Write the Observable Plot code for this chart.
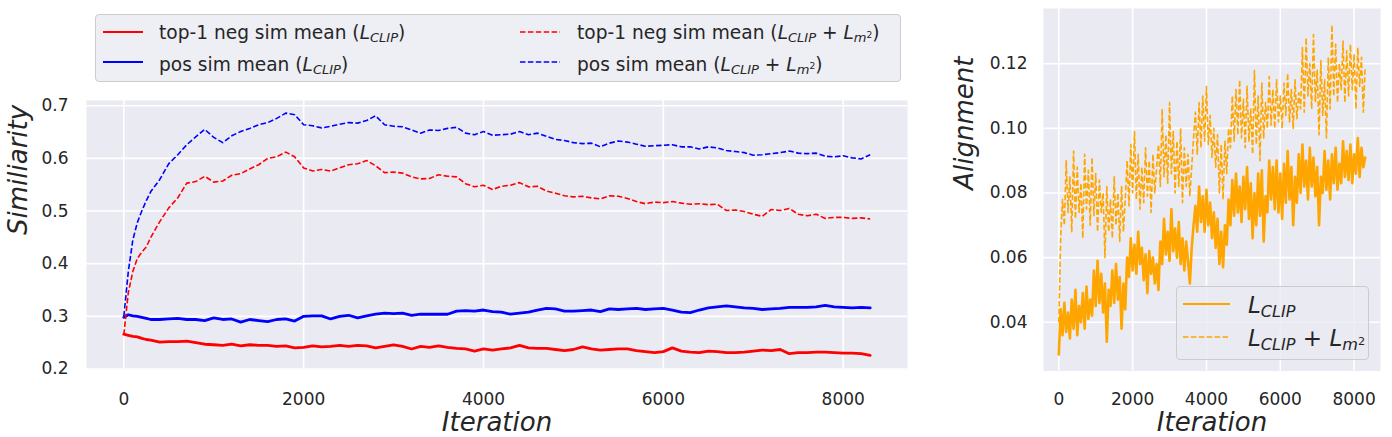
<!DOCTYPE html>
<html>
<head>
<meta charset="utf-8">
<script src="https://cdn.jsdelivr.net/npm/d3@7"></script>
<script src="https://cdn.jsdelivr.net/npm/@observablehq/plot@0.6"></script>
<style>
  html, body { margin: 0; padding: 0; background: #ffffff; }
  #wrap { position: relative; width: 1392px; height: 437px; overflow: hidden; background: #fff;
          font-family: "DejaVu Sans", sans-serif; color: #262626; }
  .abs { position: absolute; }
  .lg-box { position: absolute; box-sizing: border-box; border: 1px solid #cccccc; border-radius: 4px; }
  .lg-text { position: absolute; white-space: nowrap; line-height: 1; color: #262626; }
  .mi { font-style: italic; }
  .sb { font-size: 70%; position: relative; top: 0.25em; font-style: italic; }
  .sp { font-size: 70%; position: relative; top: -0.5em; font-style: normal; }
</style>
</head>
<body>
<div id="wrap">
  <div id="left" class="abs" style="left:0;top:0;"></div>
  <div id="right" class="abs" style="left:930px;top:0;"></div>
  <div id="legends"></div>
</div>
<script>
// ---------------- Left panel data (Similarity) ----------------
const iterLeft = [
  0, 50, 100, 150, 200, 250, 300,
  400, 500, 600, 700, 800, 900, 1000, 1100, 1200, 1300,
  1400, 1500, 1600, 1700, 1800, 1900, 2000, 2100, 2200, 2300,
  2400, 2500, 2600, 2700, 2800, 2900, 3000, 3100, 3200, 3300,
  3400, 3500, 3600, 3700, 3800, 3900, 4000, 4100, 4200, 4300,
  4400, 4500, 4600, 4700, 4800, 4900, 5000, 5100, 5200, 5300,
  5400, 5500, 5600, 5700, 5800, 5900, 6000, 6100, 6200, 6300,
  6400, 6500, 6600, 6700, 6800, 6900, 7000, 7100, 7200, 7300,
  7400, 7500, 7600, 7700, 7800, 7900, 8000, 8100, 8200, 8300
];
// top-1 neg sim mean (L_CLIP)
const negClip = [
  0.266, 0.264, 0.262, 0.261, 0.258, 0.256, 0.255,
  0.251, 0.252, 0.252, 0.253, 0.250, 0.247, 0.246, 0.245, 0.247, 0.244,
  0.246, 0.245, 0.245, 0.243, 0.244, 0.240, 0.241, 0.244, 0.242, 0.243,
  0.245, 0.243, 0.245, 0.244, 0.240, 0.243, 0.246, 0.243, 0.238, 0.243,
  0.241, 0.244, 0.241, 0.239, 0.238, 0.234, 0.238, 0.236, 0.238, 0.240,
  0.245, 0.240, 0.239, 0.239, 0.237, 0.235, 0.237, 0.242, 0.238, 0.236,
  0.237, 0.238, 0.238, 0.235, 0.233, 0.231, 0.233, 0.240, 0.234, 0.232,
  0.231, 0.234, 0.233, 0.231, 0.231, 0.232, 0.234, 0.236, 0.235, 0.237,
  0.229, 0.231, 0.231, 0.232, 0.232, 0.231, 0.230, 0.230, 0.229, 0.226
];
// pos sim mean (L_CLIP)
const posClip = [
  0.298, 0.303, 0.301, 0.300, 0.298, 0.296, 0.294,
  0.294, 0.295, 0.296, 0.294, 0.294, 0.292, 0.297, 0.294, 0.295, 0.289,
  0.294, 0.292, 0.290, 0.294, 0.295, 0.291, 0.300, 0.301, 0.301, 0.295,
  0.300, 0.302, 0.297, 0.301, 0.304, 0.306, 0.305, 0.306, 0.302, 0.304,
  0.304, 0.304, 0.304, 0.310, 0.311, 0.310, 0.312, 0.309, 0.308, 0.304,
  0.306, 0.308, 0.312, 0.315, 0.314, 0.310, 0.310, 0.311, 0.312, 0.309,
  0.314, 0.313, 0.314, 0.315, 0.313, 0.314, 0.315, 0.312, 0.308, 0.307,
  0.312, 0.316, 0.318, 0.320, 0.318, 0.316, 0.315, 0.313, 0.314, 0.315,
  0.317, 0.317, 0.317, 0.318, 0.321, 0.318, 0.317, 0.316, 0.317, 0.316
];
// top-1 neg sim mean (L_CLIP + L_m2)
const negM2 = [
  0.265, 0.345, 0.385, 0.410, 0.422, 0.432, 0.450,
  0.480, 0.506, 0.525, 0.553, 0.556, 0.566, 0.555, 0.557, 0.568, 0.571,
  0.580, 0.588, 0.600, 0.603, 0.612, 0.603, 0.582, 0.576, 0.579, 0.576,
  0.582, 0.588, 0.590, 0.596, 0.586, 0.573, 0.574, 0.572, 0.565, 0.561,
  0.562, 0.569, 0.566, 0.565, 0.552, 0.546, 0.549, 0.541, 0.547, 0.549,
  0.554, 0.546, 0.547, 0.538, 0.534, 0.529, 0.527, 0.528, 0.525, 0.523,
  0.529, 0.528, 0.524, 0.518, 0.514, 0.517, 0.516, 0.518, 0.515, 0.513,
  0.514, 0.512, 0.513, 0.501, 0.502, 0.499, 0.494, 0.490, 0.503, 0.501,
  0.505, 0.494, 0.491, 0.494, 0.486, 0.488, 0.488, 0.486, 0.487, 0.485
];
// pos sim mean (L_CLIP + L_m2)
const posM2 = [
  0.300, 0.385, 0.445, 0.478, 0.500, 0.520, 0.537,
  0.560, 0.590, 0.607, 0.626, 0.641, 0.655, 0.640, 0.630, 0.643, 0.651,
  0.657, 0.664, 0.668, 0.676, 0.686, 0.683, 0.664, 0.662, 0.658, 0.661,
  0.665, 0.668, 0.667, 0.672, 0.681, 0.664, 0.661, 0.660, 0.654, 0.648,
  0.654, 0.653, 0.657, 0.659, 0.648, 0.645, 0.651, 0.644, 0.645, 0.646,
  0.651, 0.645, 0.648, 0.642, 0.636, 0.634, 0.630, 0.628, 0.629, 0.622,
  0.629, 0.633, 0.631, 0.627, 0.623, 0.624, 0.625, 0.626, 0.622, 0.622,
  0.618, 0.622, 0.620, 0.615, 0.613, 0.611, 0.606, 0.607, 0.609, 0.611,
  0.614, 0.610, 0.609, 0.610, 0.604, 0.603, 0.605, 0.601, 0.599, 0.607
];

// ---------------- Right panel data (Alignment), one value every 50 iterations ----------------
const alignStep = 50;
const alignClip = [
  0.030, 0.044, 0.036, 0.046, 0.037, 0.043, 0.035, 0.047, 0.038, 0.050,
  0.036, 0.045, 0.040, 0.049, 0.038, 0.051, 0.041, 0.047, 0.042, 0.056,
  0.045, 0.059, 0.046, 0.055, 0.043, 0.052, 0.034, 0.050, 0.045, 0.056,
  0.046, 0.058, 0.047, 0.054, 0.038, 0.052, 0.044, 0.060, 0.054, 0.066,
  0.056, 0.064, 0.055, 0.068, 0.058, 0.063, 0.053, 0.061, 0.049, 0.062,
  0.055, 0.060, 0.052, 0.058, 0.050, 0.065, 0.058, 0.072, 0.061, 0.068,
  0.059, 0.075, 0.062, 0.069, 0.060, 0.071, 0.058, 0.066, 0.056, 0.065,
  0.059, 0.052, 0.063, 0.070, 0.076, 0.068, 0.082, 0.071, 0.079, 0.068,
  0.081, 0.070, 0.077, 0.066, 0.074, 0.063, 0.072, 0.058, 0.068, 0.057,
  0.070, 0.064, 0.078, 0.070, 0.084, 0.073, 0.086, 0.074, 0.082, 0.071,
  0.085, 0.075, 0.088, 0.072, 0.083, 0.066, 0.080, 0.070, 0.086, 0.073,
  0.087, 0.065, 0.079, 0.074, 0.090, 0.078, 0.088, 0.075, 0.090, 0.074,
  0.086, 0.072, 0.089, 0.077, 0.093, 0.078, 0.088, 0.070, 0.085, 0.077,
  0.092, 0.080, 0.095, 0.082, 0.090, 0.078, 0.094, 0.082, 0.091, 0.079,
  0.088, 0.070, 0.085, 0.080, 0.093, 0.081, 0.090, 0.078, 0.092, 0.083,
  0.094, 0.081, 0.089, 0.083, 0.096, 0.085, 0.093, 0.084, 0.095, 0.083,
  0.092, 0.086, 0.097, 0.085, 0.094, 0.088, 0.091
];
const alignM2 = [
  0.040, 0.066, 0.078, 0.070, 0.090, 0.074, 0.085, 0.068, 0.093, 0.072,
  0.088, 0.074, 0.083, 0.066, 0.092, 0.075, 0.087, 0.070, 0.091, 0.073,
  0.086, 0.068, 0.084, 0.074, 0.080, 0.060, 0.082, 0.068, 0.078, 0.066,
  0.085, 0.070, 0.080, 0.065, 0.082, 0.068, 0.078, 0.090, 0.076, 0.095,
  0.080, 0.099, 0.078, 0.092, 0.075, 0.088, 0.077, 0.094, 0.079, 0.090,
  0.074, 0.092, 0.080, 0.088, 0.095, 0.082, 0.106, 0.085, 0.098, 0.083,
  0.108, 0.086, 0.099, 0.080, 0.096, 0.082, 0.100, 0.077, 0.094, 0.082,
  0.092, 0.079, 0.088, 0.097, 0.105, 0.092, 0.108, 0.094, 0.110, 0.096,
  0.113, 0.095, 0.104, 0.091, 0.100, 0.088, 0.098, 0.080, 0.095, 0.078,
  0.096, 0.086, 0.100, 0.094, 0.110, 0.096, 0.112, 0.098, 0.115, 0.097,
  0.109, 0.094, 0.113, 0.096, 0.106, 0.092, 0.118, 0.095, 0.110, 0.090,
  0.114, 0.097, 0.108, 0.100, 0.116, 0.101, 0.112, 0.100, 0.115, 0.102,
  0.110, 0.100, 0.114, 0.104, 0.117, 0.102, 0.112, 0.100, 0.115, 0.103,
  0.111, 0.106, 0.125, 0.105, 0.128, 0.110, 0.120, 0.106, 0.129, 0.108,
  0.118, 0.098, 0.121, 0.104, 0.115, 0.097, 0.122, 0.106, 0.132, 0.110,
  0.126, 0.108, 0.120, 0.112, 0.127, 0.108, 0.124, 0.110, 0.126, 0.112,
  0.123, 0.106, 0.125, 0.113, 0.122, 0.105, 0.119
];

// ---------------- Ticks ----------------
const xTicks = [0, 2000, 4000, 6000, 8000];
const yTicksLeft = [0.2, 0.3, 0.4, 0.5, 0.6, 0.7];
const yTicksRight = [0.04, 0.06, 0.08, 0.10, 0.12];

const RED = "#ff0000", BLUE = "#0000ff", ORANGE = "#ffa500";
const BG = "#eaeaf2", INK = "#262626";
const DASH = "5.5,2.4";

const leftRows = vals => iterLeft.map((it, i) => ({iter: it, v: vals[i]}));
const rightRows = vals => vals.map((v, i) => ({iter: i * alignStep, v}));

const baseStyle = {fontFamily: "DejaVu Sans", color: INK, background: "transparent", overflow: "visible"};

const left = Plot.plot({
  width: 920, height: 437,
  marginLeft: 86, marginRight: 13, marginTop: 100, marginBottom: 68,
  style: baseStyle,
  x: {domain: [-415, 8715]},
  y: {domain: [0.199, 0.71]},
  marks: [
    Plot.frame({fill: BG, stroke: "none"}),
    Plot.gridX(xTicks, {stroke: "#ffffff", strokeOpacity: 1, strokeWidth: 1.6}),
    Plot.gridY(yTicksLeft, {stroke: "#ffffff", strokeOpacity: 1, strokeWidth: 1.6}),
    Plot.axisX({ticks: xTicks, tickSize: 0, tickPadding: 23, tickFormat: "d", label: null, fontSize: 17}),
    Plot.axisY({ticks: yTicksLeft, tickSize: 0, tickPadding: 18, tickFormat: ".1f", label: null, fontSize: 17}),
    Plot.line(leftRows(negClip), {x: "iter", y: "v", stroke: RED, strokeWidth: 2.8}),
    Plot.line(leftRows(posClip), {x: "iter", y: "v", stroke: BLUE, strokeWidth: 2.8}),
    Plot.line(leftRows(negM2), {x: "iter", y: "v", stroke: RED, strokeWidth: 1.6, strokeDasharray: DASH, strokeLinecap: "butt"}),
    Plot.line(leftRows(posM2), {x: "iter", y: "v", stroke: BLUE, strokeWidth: 1.6, strokeDasharray: DASH, strokeLinecap: "butt"}),
    Plot.text(["Iteration"], {frameAnchor: "bottom", dy: 61, fontSize: 26, fontStyle: "italic", fill: INK}),
    Plot.text(["Similiarity"], {frameAnchor: "left", dx: -67.5, rotate: -90, fontSize: 26, fontStyle: "italic", fill: INK})
  ]
});
document.getElementById("left").appendChild(left);

const right = Plot.plot({
  width: 462, height: 437,
  marginLeft: 113, marginRight: 12, marginTop: 8, marginBottom: 66.5,
  style: baseStyle,
  x: {domain: [-415, 8715]},
  y: {domain: [0.0249, 0.1371]},
  marks: [
    Plot.frame({fill: BG, stroke: "none"}),
    Plot.gridX(xTicks, {stroke: "#ffffff", strokeOpacity: 1, strokeWidth: 1.6}),
    Plot.gridY(yTicksRight, {stroke: "#ffffff", strokeOpacity: 1, strokeWidth: 1.6}),
    Plot.axisX({ticks: xTicks, tickSize: 0, tickPadding: 22, tickFormat: "d", label: null, fontSize: 17}),
    Plot.axisY({ticks: yTicksRight, tickSize: 0, tickPadding: 16, tickFormat: ".2f", label: null, fontSize: 17}),
    Plot.line(rightRows(alignM2), {x: "iter", y: "v", stroke: ORANGE, strokeWidth: 1.6, strokeDasharray: DASH, strokeLinecap: "butt"}),
    Plot.line(rightRows(alignClip), {x: "iter", y: "v", stroke: ORANGE, strokeWidth: 2.6}),
    Plot.text(["Iteration"], {frameAnchor: "bottom", dy: 59.5, fontSize: 26, fontStyle: "italic", fill: INK}),
    Plot.text(["Alignment"], {frameAnchor: "left", dx: -79, rotate: -90, fontSize: 26, fontStyle: "italic", fill: INK})
  ]
});
document.getElementById("right").appendChild(right);

// ---------------- Legends (HTML overlays) ----------------
const L = '<span class="mi">L</span>';
const CLIP = L + '<span class="sb">CLIP</span>';
const M2 = L + '<span class="sb">m<span class="sp">2</span></span>';
const legendLeft = [
  {label: 'top-1 neg sim mean (' + CLIP + ')', color: RED, dash: false, x1: 103, x2: 143, tx: 159, ly: 32, top: 24},
  {label: 'pos sim mean (' + CLIP + ')', color: BLUE, dash: false, x1: 103, x2: 143, tx: 159, ly: 62, top: 55.7},
  {label: 'top-1 neg sim mean (' + CLIP + ' + ' + M2 + ')', color: RED, dash: true, x1: 520, x2: 560, tx: 577, ly: 32, top: 24},
  {label: 'pos sim mean (' + CLIP + ' + ' + M2 + ')', color: BLUE, dash: true, x1: 520, x2: 560, tx: 577, ly: 62, top: 55.7}
];
const legendRight = [
  {label: CLIP, color: ORANGE, dash: false, x1: 1183, x2: 1230, tx: 1248, ly: 304, top: 293.8},
  {label: CLIP + ' + ' + M2, color: ORANGE, dash: true, x1: 1183, x2: 1230, tx: 1248, ly: 337, top: 327.2}
];

let html = '';
html += '<div class="lg-box" style="left:95px;top:14px;width:806px;height:68px;background:#eeeef5;"></div>';
html += '<div class="lg-box" style="left:1176px;top:286px;width:193px;height:74px;background:rgba(234,234,242,0.8);"></div>';
function item(it, fs) {
  const dash = it.dash ? 'stroke-dasharray="' + DASH + '"' : '';
  const sw = it.dash ? 1.5 : 2.2;
  let s = '<svg class="abs" style="left:0;top:0;overflow:visible" width="1" height="1">' +
    '<line x1="' + it.x1 + '" y1="' + it.ly + '" x2="' + it.x2 + '" y2="' + it.ly + '" stroke="' + it.color + '" stroke-width="' + sw + '" ' + dash + '/></svg>';
  s += '<div class="lg-text" style="left:' + it.tx + 'px;top:' + it.top + 'px;font-size:' + fs + 'px;">' + it.label + '</div>';
  return s;
}
legendLeft.forEach(it => html += item(it, 18.6));
legendRight.forEach(it => html += item(it, 23));
document.getElementById("legends").innerHTML = html;
</script>
</body>
</html>
